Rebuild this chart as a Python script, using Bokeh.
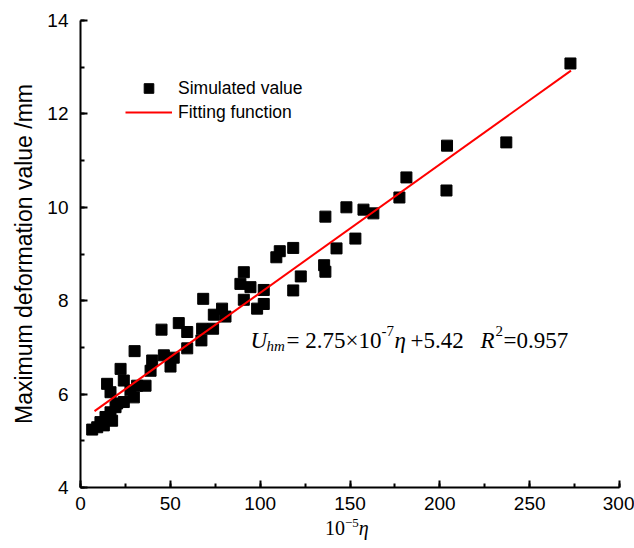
from bokeh.plotting import figure
from bokeh.layouts import column
from bokeh.models import (Range1d, SingleIntervalTicker, Label, Legend, LegendItem, Div)
from bokeh.embed import file_html
from bokeh.resources import INLINE

# ---- data ----
eta_x = [6.5, 9.3, 11.1, 13.0, 13.9, 16.7, 17.6, 19.5, 24.1, 20.4, 29.7, 16.7,
         27.8, 14.8, 24.1, 31.5, 36.2, 22.3, 30.1, 39.9, 39.0, 46.4, 51.9, 50.1,
         45.1, 54.7, 59.4, 59.4, 67.3, 67.7, 73.8, 68.3, 74.2, 78.8, 80.7, 90.9,
         89.0, 90.9, 94.6, 98.3, 102.0, 102.0,
         109.0, 110.9, 118.4, 118.4, 122.6, 135.6, 136.3, 136.3, 142.5, 148.0,
         153.0, 157.5, 163.0, 177.5, 181.4, 203.7, 204.0, 237.0, 272.7]
deform = [5.24, 5.29, 5.40, 5.33, 5.51, 5.61, 5.43, 5.72, 5.83, 5.80, 5.93, 6.04,
          6.08, 6.22, 6.29, 6.18, 6.18, 6.54, 6.92, 6.72, 6.50, 6.83, 6.78, 6.59,
          7.38, 7.52, 7.33, 6.98, 7.15, 7.40, 7.40, 8.04, 7.70, 7.83, 7.66, 8.02,
          8.36, 8.61, 8.29, 7.83, 7.93, 8.23,
          8.93, 9.06, 9.13, 8.22, 8.52, 8.76, 8.62, 9.80, 9.12, 10.00,
          9.33, 9.95, 9.87, 10.21, 10.64, 10.36, 11.32, 11.39, 13.08]

fit_slope = 2.75e-7 * 1e5   # per unit of 10^-5 eta
fit_intercept = 5.42
fit_x = [7.8, 273.0]
fit_y = [fit_slope * v + fit_intercept for v in fit_x]

x_ticks_interval = 50
y_ticks_interval = 2

# ---- layout ----
FL, FR, FT = 80, 15, 20
W, H = 634, 548
DIV_H = 30
FB = H - DIV_H - FT - 467
FW, FH = W - FL - FR, 467
X0, X1, Y0, Y1 = 0, 300, 4, 14

def px2x(px):
    return X0 + (px - FL) * (X1 - X0) / FW

def py2y(py):
    return Y0 + (FT + FH - py) * (Y1 - Y0) / FH

p = figure(width=W, height=H - DIV_H, frame_width=FW, frame_height=FH,
           x_range=Range1d(X0, X1), y_range=Range1d(Y0, Y1),
           output_backend="svg", toolbar_location=None,
           min_border_left=FL, min_border_right=FR,
           min_border_top=FT, min_border_bottom=FB)
p.outline_line_color = None
p.xgrid.visible = False
p.ygrid.visible = False
p.background_fill_color = "white"
p.border_fill_color = "white"

sans = "Liberation Sans"
serif = "Liberation Serif"

p.xaxis.ticker = SingleIntervalTicker(interval=x_ticks_interval, num_minor_ticks=2)
p.yaxis.ticker = SingleIntervalTicker(interval=y_ticks_interval, num_minor_ticks=2)
for ax in (p.xaxis[0], p.yaxis[0]):
    ax.axis_line_width = 2
    ax.axis_line_color = "black"
    ax.major_tick_in = 7
    ax.major_tick_out = 0
    ax.minor_tick_in = 4
    ax.minor_tick_out = 0
    ax.major_tick_line_width = 2
    ax.minor_tick_line_width = 2
    ax.major_tick_line_color = "black"
    ax.minor_tick_line_color = "black"
    ax.major_label_text_font = sans
    ax.major_label_text_font_size = "19px"
    ax.major_label_text_color = "black"
p.xaxis.major_label_standoff = 9
p.yaxis.major_label_standoff = 12
p.yaxis.axis_label = "Maximum deformation value /mm"
p.yaxis.axis_label_text_font = sans
p.yaxis.axis_label_text_font_style = "normal"
p.yaxis.axis_label_text_font_size = "23px"
p.yaxis.axis_label_text_color = "black"
p.yaxis.axis_label_standoff = 7

sc = p.scatter(eta_x, deform, marker="square", size=11, color="black")
ln = p.line(fit_x, fit_y, line_color="#ff0000", line_width=2)

legend = Legend(items=[LegendItem(label="Simulated value", renderers=[sc]),
                       LegendItem(label="Fitting function", renderers=[ln])],
                location=(45, 363), border_line_color=None,
                background_fill_alpha=0, padding=0, margin=0, spacing=0,
                glyph_width=47, glyph_height=24, label_height=24,
                label_standoff=6, label_text_font=sans,
                label_text_font_size="17.5px", label_text_color="black")
p.add_layout(legend, "center")

def lab(px, py, txt, size, style="normal", font=serif):
    p.add_layout(Label(x=px2x(px), y=py2y(py), text=txt, text_font=font,
                       text_font_size=size, text_font_style=style,
                       text_color="black", text_baseline="alphabetic",
                       text_align="left"))

# fit equation
base = 340
lab(250, base, "U", "23px", "italic")
lab(266, base + 5, "hm", "15px", "italic")
lab(286, base, "= 2.75\u00d710", "23px")
lab(381, base - 10, "-7", "15px")
lab(394, base, "\u03b7", "23px", "italic")
lab(410, base, "+5.42", "23px")
lab(480, base, "R", "23px", "italic")
lab(495, base - 10, "2", "15px")
lab(503, base, "=0.957", "23px")

# x-axis title: 10^-5 eta (serif, italic eta)
xlab = Div(text=('<span>10</span><span style="font-size:13px;position:relative;top:-8px;">'
                 '\u22125</span><i>\u03b7</i>'),
           width=W, height=DIV_H, margin=0,
           styles={"font-family": serif, "font-size": "20px", "color": "black",
                   "line-height": "20px", "padding-left": "325px",
                   "padding-top": "0px", "background": "white",
                   "white-space": "nowrap"})

open("out.html", "w").write(file_html(column(p, xlab, spacing=0), INLINE))
